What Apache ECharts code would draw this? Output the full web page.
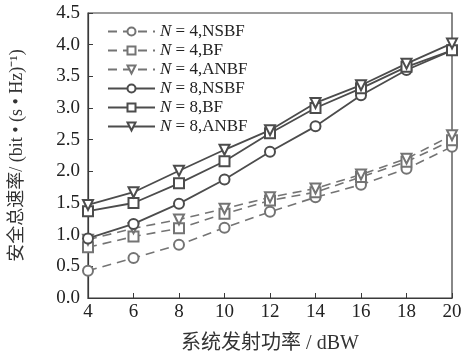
<!DOCTYPE html>
<html>
<head>
<meta charset="utf-8">
<script src="https://cdn.jsdelivr.net/npm/echarts@6/dist/echarts.min.js"></script>
<style>
  html, body { margin: 0; padding: 0; background: #fff; }
  #chart { width: 465px; height: 364px; }
</style>
</head>
<body>
<div id="chart"></div>
<script>
// 横轴：系统发射功率 (dBW)
const power = [4, 6, 8, 10, 12, 14, 16, 18, 20]
// N = 4
const n4Nsbf = [0.43, 0.63, 0.84, 1.11, 1.36, 1.59, 1.79, 2.04, 2.39]
const n4Bf = [0.80, 0.97, 1.10, 1.33, 1.54, 1.67, 1.91, 2.15, 2.49]
const n4Anbf = [0.92, 1.10, 1.24, 1.41, 1.59, 1.73, 1.95, 2.20, 2.57]
// N = 8
const n8Nsbf = [0.94, 1.17, 1.49, 1.87, 2.31, 2.71, 3.20, 3.60, 3.91]
const n8Bf = [1.37, 1.50, 1.81, 2.16, 2.60, 3.00, 3.31, 3.65, 3.91]
const n8Anbf = [1.47, 1.67, 2.01, 2.34, 2.65, 3.08, 3.36, 3.70, 4.02]

// 西文用衬线体，中文回落到思源黑体
const serif = '"Liberation Serif", "Noto Sans CJK SC", serif'
const dashColor = '#747474'
const solidColor = '#4c4c4c'

function toPairs(ys) {
  return power.map((x, i) => [x, ys[i]])
}

function makeSeries(name, ys, symbol, dashed) {
  const color = dashed ? dashColor : solidColor
  return {
    name: name,
    type: 'line',
    data: toPairs(ys),
    symbol: symbol,
    symbolSize: 10,
    symbolRotate: symbol === 'emptyTriangle' ? 180 : 0,
    showAllSymbol: true,
    color: color,
    lineStyle: {
      color: color,
      width: dashed ? 1.6 : 1.8,
      type: dashed ? [9, 6] : 'solid'
    },
    itemStyle: { color: color, borderColor: color, borderWidth: 1.5 },
    animation: false
  }
}

const seriesList = [
  makeSeries('4,NSBF', n4Nsbf, 'emptyCircle', true),
  makeSeries('4,BF', n4Bf, 'emptyRect', true),
  makeSeries('4,ANBF', n4Anbf, 'emptyTriangle', true),
  makeSeries('8,NSBF', n8Nsbf, 'emptyCircle', false),
  makeSeries('8,BF', n8Bf, 'emptyRect', false),
  makeSeries('8,ANBF', n8Anbf, 'emptyTriangle', false)
]

const myChart = echarts.init(document.getElementById('chart'))
const option = {
  backgroundColor: '#fff',
  grid: {
    left: 87,
    right: 13,
    top: 13,
    bottom: 66,
    show: true,
    borderColor: '#3a3a3a',
    borderWidth: 1.2
  },
  legend: {
    orient: 'vertical',
    left: 102,
    top: 18,
    itemWidth: 47,
    itemHeight: 10,
    itemGap: 2,
    data: seriesList.map(s => s.name),
    formatter: name => '{i|N}{t| = ' + name + '}',
    textStyle: {
      fontFamily: serif,
      fontSize: 17,
      color: '#222',
      lineHeight: 17,
      rich: {
        i: { fontFamily: serif, fontSize: 17, fontStyle: 'italic', color: '#222' },
        t: { fontFamily: serif, fontSize: 17, color: '#222' }
      }
    }
  },
  xAxis: {
    type: 'value',
    min: 4,
    max: 20,
    interval: 2,
    name: '系统发射功率 / dBW',
    nameLocation: 'middle',
    nameGap: 36,
    nameTextStyle: { fontFamily: serif, fontSize: 20, color: '#333' },
    axisLine: { lineStyle: { color: '#3a3a3a', width: 1.2 } },
    axisTick: { inside: true, length: 5, lineStyle: { color: '#3a3a3a' } },
    axisLabel: { fontFamily: serif, fontSize: 19, color: '#222', margin: 5 },
    splitLine: { show: false }
  },
  yAxis: {
    type: 'value',
    min: 0,
    max: 4.5,
    interval: 0.5,
    name: '安全总速率/ (bit • (s • Hz)⁻¹)',
    nameLocation: 'middle',
    nameGap: 62,
    nameTextStyle: { fontFamily: serif, fontSize: 18, color: '#333' },
    axisLine: { lineStyle: { color: '#3a3a3a', width: 1.2 } },
    axisTick: { inside: true, length: 5, lineStyle: { color: '#3a3a3a' } },
    axisLabel: {
      fontFamily: serif,
      fontSize: 19,
      color: '#222',
      margin: 8,
      formatter: v => v.toFixed(1)
    },
    splitLine: { show: false }
  },
  series: seriesList
}
myChart.setOption(option)
</script>
</body>
</html>
